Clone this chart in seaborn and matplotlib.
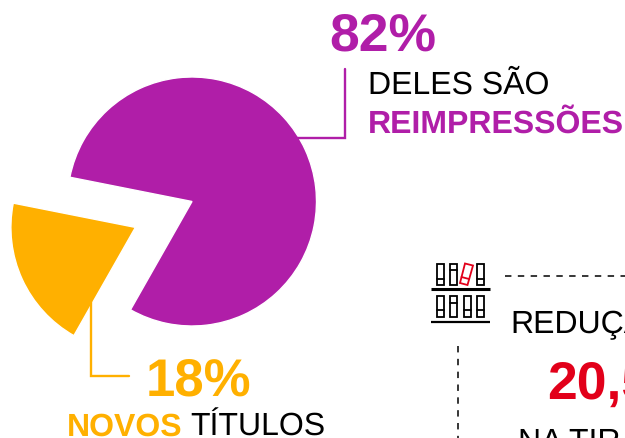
import matplotlib
matplotlib.use("Agg")
import matplotlib.pyplot as plt
from matplotlib.patches import Polygon, Rectangle
import seaborn as sns

slice_names = ["Reimpressões", "Novos títulos"]
slice_shares = [80.1, 19.9]
slice_explode = [0, 0.5]
pct_labels = ["82%", "18%"]

PURPLE = "#B01EA8"
YELLOW = "#FFB000"
RED = "#E2001A"
W, H = 625, 438
R = 124.5
CX, CY = 192, 201.5

sns.set_theme(style="white")
plt.rcParams["font.family"] = ["Liberation Sans", "DejaVu Sans"]
plt.rcParams["text.hinting"] = "no_hinting"

fig = plt.figure(figsize=(W / 100, H / 100), dpi=100)

# pie axes spans 2 radii each way around the pie centre
pie_ax = fig.add_axes([(CX - 2 * R) / W, (H - CY - 2 * R) / H, 4 * R / W, 4 * R / H])
pie_ax.pie(
    slice_shares,
    explode=slice_explode,
    colors=[PURPLE, YELLOW],
    startangle=240.4,
    counterclock=True,
    radius=1,
)
pie_ax.set_xlim(-2, 2)
pie_ax.set_ylim(-2, 2)
pie_ax.set_aspect("equal")
pie_ax.axis("off")

# overlay in pixel coordinates for callouts, text and the icon
ax = fig.add_axes([0, 0, 1, 1])
ax.set_xlim(0, W)
ax.set_ylim(H, 0)
ax.axis("off")
ax.patch.set_alpha(0)

ax.plot([296, 345, 345], [138, 138, 69], color=PURPLE, lw=1.7, solid_joinstyle="miter")
ax.plot([91, 91, 129], [302, 376, 376], color=YELLOW, lw=1.7, solid_joinstyle="miter")

dash = (0, (4.2, 4.2))
ax.plot([505, 625], [276, 276], color="black", lw=1.1, linestyle=dash)
ax.plot([458, 458], [346, 438], color="black", lw=1.1, linestyle=dash)


def label(x, y, s, size=23, color="black", weight="normal"):
    return ax.text(x, y, s, fontsize=size, color=color, fontweight=weight, va="baseline", ha="left")


label(329, 50.5, pct_labels[0], size=38.5, color=PURPLE, weight="bold")
label(368, 94, "DELES SÃO")
label(368, 133, "REIMPRESSÕES", color=PURPLE, weight="bold")

label(146, 395.5, pct_labels[1], size=38, color=YELLOW, weight="bold")
label(67, 436, "NOVOS", color=YELLOW, weight="bold")
label(190, 436, "TÍTULOS")

label(510, 332, "REDUÇÃO")
label(547, 399, "20,5%", size=38.5, color=RED, weight="bold")
label(518, 451, "NA TIRAGEM")

# book icon
ax.plot([431, 490], [289, 289], color="black", lw=2.2, solid_capstyle="butt")
ax.plot([431, 490], [322, 322], color="black", lw=1.6, solid_capstyle="butt")

top_books = [437, 450, 477]
top_bands = [279, 270, 279]
bottom_books = [437, 450, 463.5, 477]
bottom_bands = [310, 303, 310, 310]

for bx, band in zip(top_books, top_bands):
    ax.add_patch(Rectangle((bx, 264), 7, 21, fill=False, ec="black", lw=1.3))
    ax.plot([bx, bx + 7], [band, band], color="black", lw=1.3)
for bx, band in zip(bottom_books, bottom_bands):
    ax.add_patch(Rectangle((bx, 296), 7, 21, fill=False, ec="black", lw=1.3))
    ax.plot([bx, bx + 7], [band, band], color="black", lw=1.3)

ax.add_patch(Polygon([(465, 263.5), (473, 265.5), (467.5, 285), (460, 283)], closed=True, fill=False, ec=RED, lw=1.3))
ax.plot([461.5, 469], [277, 279], color=RED, lw=1.3)

fig.savefig("out.png", dpi=100)
plt.close(fig)
